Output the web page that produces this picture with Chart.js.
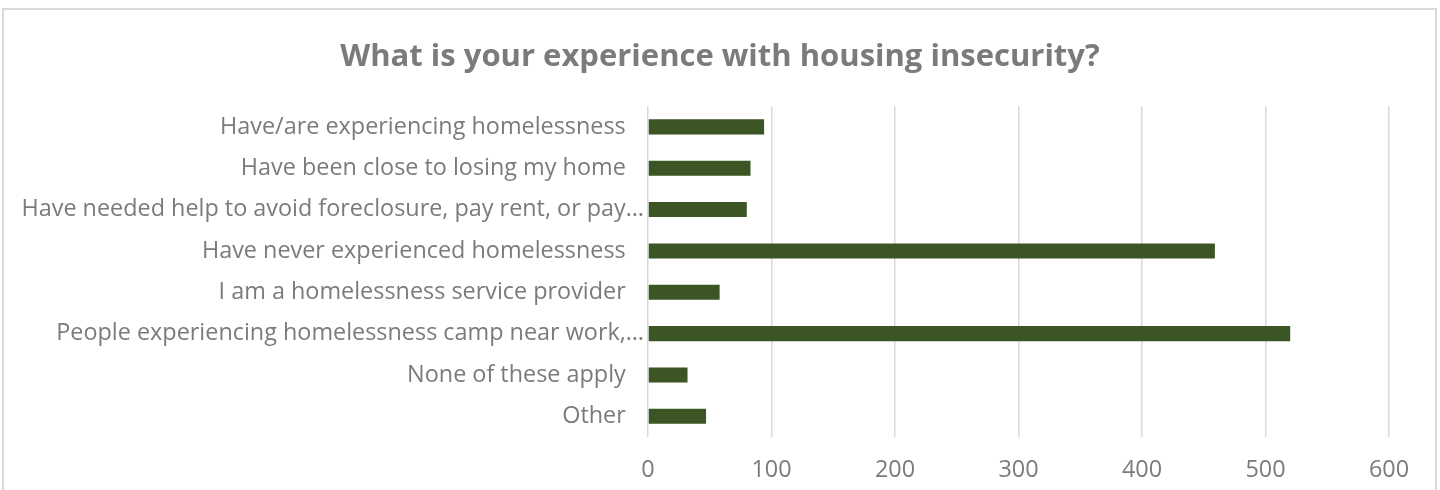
<!DOCTYPE html>
<html><head><meta charset="utf-8">
<script src="https://cdn.jsdelivr.net/npm/chart.js@4/dist/chart.umd.min.js"></script>
<style>html,body{margin:0;padding:0;background:#fff}#wrap{position:relative;width:1440px;height:490px}</style>
</head><body><div id="wrap"><canvas id="c" width="1440" height="490"></canvas></div>
<script>
const categories = [
  'Have/are experiencing homelessness',
  'Have been close to losing my home',
  'Have needed help to avoid foreclosure, pay rent, or pay…',
  'Have never experienced homelessness',
  'I am a homelessness service provider',
  'People experiencing homelessness camp near work,…',
  'None of these apply',
  'Other'
];
const responses = [94, 83, 80, 459, 58, 520, 32, 47];
const titleText = 'What is your experience with housing insecurity?';
const xMin = 0, xMax = 600, xStep = 100;

const frame = {
  id: 'frame',
  beforeDraw(chart) {
    const c = chart.ctx;
    c.save();
    c.fillStyle = '#ffffff';
    c.fillRect(0, 0, chart.width, chart.height);
    c.strokeStyle = '#d9d9d9';
    c.lineWidth = 2;
    c.strokeRect(3, 9, 1433, 500);
    c.restore();
  }
};

new Chart(document.getElementById('c'), {
  type: 'bar',
  data: {
    labels: categories,
    datasets: [{
      data: responses,
      backgroundColor: '#3b5524',
      borderWidth: 0,
      barPercentage: 0.363,
      categoryPercentage: 1
    }]
  },
  options: {
    indexAxis: 'y',
    responsive: false,
    animation: false,
    devicePixelRatio: 1,
    layout: { padding: { left: 0, right: 0, top: 0, bottom: 0 } },
    plugins: {
      legend: { display: false },
      tooltip: { enabled: false },
      title: {
        display: true,
        text: titleText,
        color: '#7b7b7b',
        font: { family: 'Open Sans', size: 31, weight: 'bold', lineHeight: 1.2 },
        padding: { top: 39, bottom: 30 }
      }
    },
    scales: {
      x: {
        min: xMin, max: xMax,
        ticks: { stepSize: xStep, color: '#7b7b7b', padding: 19,
          font: { family: 'Open Sans', size: 23.4 } },
        grid: { color: '#d9d9d9', lineWidth: 1.5, drawTicks: false },
        border: { display: false },
        afterFit(s) { s.height = 53; }
      },
      y: {
        position: 'left',
        ticks: {
          color: '#7b7b7b', padding: 4, autoSkip: false,
          font: { family: 'Open Sans', size: 23.4 },
          // Truncated labels (ending in …) sit closer to the axis, like the original
          callback(value) {
            const t = this.getLabelForValue(value);
            return t.endsWith('…') ? t : t + '   ';
          }
        },
        grid: { display: false, drawTicks: false },
        border: { display: false },
        afterFit(s) { s.width = 648; }
      },
      yRight: {
        type: 'category',
        position: 'right',
        display: true,
        ticks: { display: false },
        grid: { display: false, drawTicks: false },
        border: { display: false },
        afterFit(s) { s.width = 51; }
      }
    }
  },
  plugins: [frame]
});
</script></body></html>
